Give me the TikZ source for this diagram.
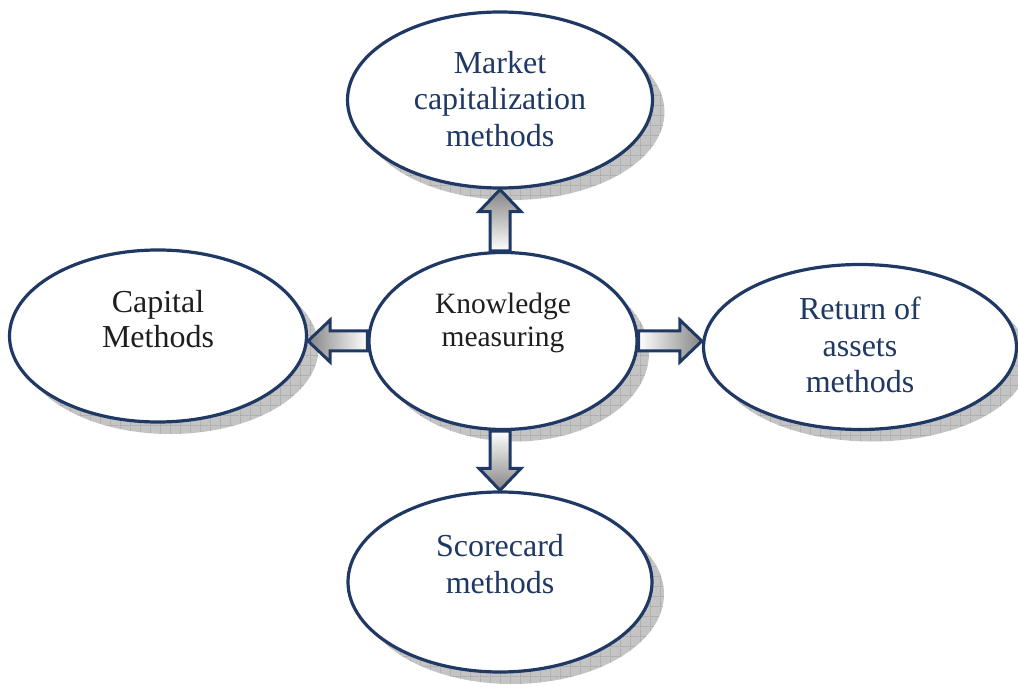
\documentclass[tikz,border=0pt]{standalone}
\usepackage{fontspec}
\setmainfont{Liberation Serif}
\usepackage{tikz}
\usetikzlibrary{shapes.geometric,calc,shadows,patterns.meta}
\definecolor{navy}{HTML}{1F3864}
\definecolor{ink}{HTML}{1E1E1E}
\definecolor{shade}{HTML}{C4C4C4}
\definecolor{mesh}{HTML}{8E8E8E}

% square mesh for the shadows
\tikzdeclarepattern{
  name=shadowmesh,
  type=uncolored,
  bounding box={(0,0) and (10pt,10pt)},
  tile size={(10pt,10pt)},
  code={\draw[line width=0.6pt] (0,0) -- (10pt,0) (0,0) -- (0,10pt);}
}

% wide block arrow: #1 tail, #2 tip, #3 shading
\newcommand\blockarrow[3]{%
  \coordinate (tail) at (#1);
  \coordinate (tip) at (#2);
  \coordinate (neck) at ($(tip)!22pt!(tail)$);
  \draw[blockarr,#3] ($(tail)!10pt!90:(tip)$) -- ($(neck)!10pt!90:(tip)$)
    -- ($(neck)!21pt!90:(tip)$) -- (tip) -- ($(neck)!21pt!-90:(tip)$)
    -- ($(neck)!10pt!-90:(tip)$) -- ($(tail)!10pt!-90:(tip)$) -- cycle;}

\begin{document}
\begin{tikzpicture}[x=1pt,y=1pt,
    oval/.style={ellipse, draw=navy, line width=3.2pt, fill=white, inner sep=0pt,
                 drop shadow={shadow xshift=12pt, shadow yshift=-12pt, opacity=1,
                              fill=shade, postaction={pattern=shadowmesh, pattern color=mesh}}},
    caption/.style={align=center, font=\fontsize{32}{36.5}\selectfont, text=navy},
    blockarr/.style={draw=navy, line width=3pt, line join=miter},
]
\useasboundingbox (0,0) rectangle (1018,686);

\node[oval, minimum width=305pt, minimum height=176pt,
      label={[caption, yshift=1pt]center:{Market\\capitalization\\methods}}] (mcm) at (500,586) {};
\node[oval, minimum width=297pt, minimum height=172pt,
      label={[caption, text=ink, yshift=17pt, font=\fontsize{32}{35}\selectfont]center:{Capital\\Methods}}] (cap) at (158,350) {};
\node[oval, minimum width=268pt, minimum height=177pt,
      label={[caption, text=ink, yshift=18pt, font=\fontsize{29.5}{32.5}\selectfont]center:{Knowledge\\measuring}}] (km) at (503,345) {};
\node[oval, minimum width=313pt, minimum height=165pt,
      label={[caption, yshift=2pt]center:{Return of\\assets\\methods}}] (ret) at (860,339) {};
\node[oval, minimum width=304pt, minimum height=180pt,
      label={[caption, yshift=18pt]center:{Scorecard\\methods}}] (sc) at (500,104) {};

% arrows out of the centre
\blockarrow{mcm.south |- km.north}{mcm.south}{top color=black!48, bottom color=white}
\blockarrow{km.west}{km.west -| cap.east}{left color=black!48, right color=white}
\blockarrow{km.east}{km.east -| ret.west}{left color=white, right color=black!48}
\blockarrow{sc.north |- km.south}{sc.north}{top color=white, bottom color=black!48}

\end{tikzpicture}
\end{document}
